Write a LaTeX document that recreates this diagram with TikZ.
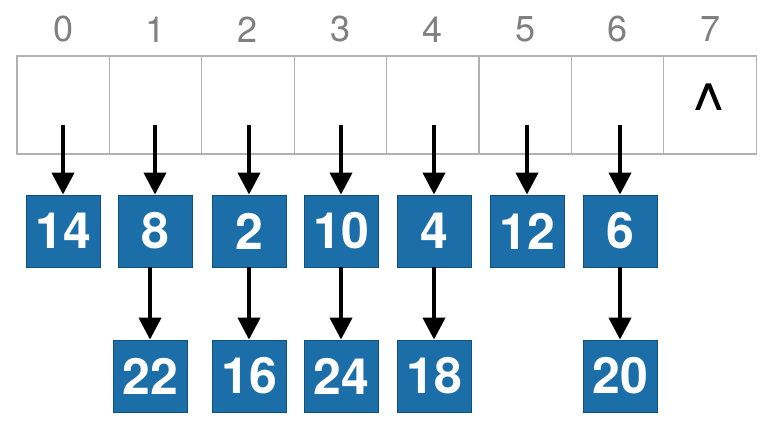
\documentclass[tikz,border=0pt]{standalone}
\usepackage{fontspec}
\setmainfont{TeX Gyre Heros}
\usepackage{tikz}
\usetikzlibrary{arrows.meta,shapes}
\definecolor{itemblue}{HTML}{1B6EA8}
\definecolor{itemedge}{HTML}{10507D}
\tikzstyle{cell}=[draw=black!30,line width=1.2pt,minimum width=92.4pt,minimum height=98pt,inner sep=0pt]
\tikzstyle{index}=[text=black!50,inner sep=0pt,font=\fontsize{36}{36}\selectfont]
\tikzstyle{caret}=[anchor=base,inner sep=0pt,font=\fontsize{70}{70}\selectfont]
\tikzstyle{item}=[fill=itemblue,draw=itemedge,line width=0.8pt,minimum width=74pt,minimum height=72pt,inner sep=0pt,text=white,font=\fontsize{50}{50}\selectfont\bfseries]
\tikzstyle{pointer} = [draw,line width=4pt,-{Triangle[length=22pt,width=22pt]}]

\begin{document}
\begin{tikzpicture}[x=1pt,y=-1pt]
    \useasboundingbox (0,0) rectangle (778,438);
    % First we draw the table with its indices
    \foreach \i in {0,...,7} {
        \node[cell] (c\i) at ({63.2+92.4*\i},105) {};
        \node[index] (l\i) at ({63.2+92.4*\i},29.5) {\i};
        \coordinate (p\i) at ([yshift=-20pt]c\i.center);
    }
    \node[caret] (nil) at (709,134) {\textasciicircum};
    % Then the items of each chain
    \foreach \name/\x/\y in {14/63/231, 8/155/231, 2/249/231, 10/341/231, 4/434/231, 12/527/231, 6/620/231,
                             22/150/376, 16/249/376, 24/341/376, 18/434/376, 20/620/376}
        \node[item] (n\name) at (\x,\y) {\name};
    % Connect the table to the first items
    \foreach \source/ \dest in {0/14, 1/8, 2/2, 3/10, 4/4, 5/12, 6/6}
        \path[pointer] (n\dest|-p\source) -- (n\dest);
    % Connect items along the chains
    \foreach \source/ \dest in {8/22, 2/16, 10/24, 4/18, 6/20}
        \path[pointer] (n\dest|-n\source.south) -- (n\dest);

\end{tikzpicture}
\end{document}
